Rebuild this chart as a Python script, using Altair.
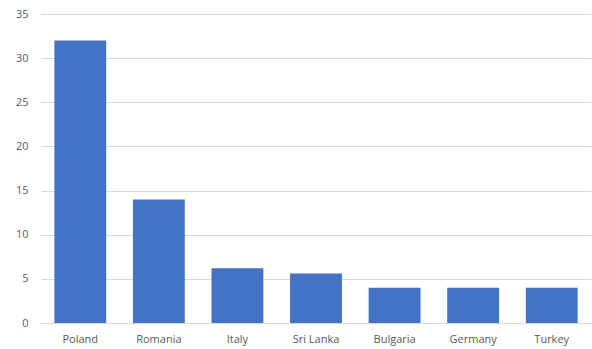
import altair as alt
import pandas as pd

countries = ["Poland", "Romania", "Italy", "Sri Lanka", "Bulgaria", "Germany", "Turkey"]
values = [32, 14, 6.2, 5.6, 4, 4, 4]

df = pd.DataFrame({"country": countries, "value": values})

chart = alt.Chart(df).mark_bar(color="#4472C4").encode(
    x=alt.X("country:N", sort=countries, title=None,
            scale=alt.Scale(paddingInner=0.34, paddingOuter=0.17),
            axis=alt.Axis(labelAngle=0, ticks=False, domainColor="#d9d9d9",
                          labelColor="#595959", labelFontSize=11,
                          labelFont="Open Sans", labelPadding=10)),
    y=alt.Y("value:Q", title=None,
            scale=alt.Scale(domain=[0, 35], nice=False),
            axis=alt.Axis(values=[0, 5, 10, 15, 20, 25, 30, 35], ticks=False,
                          domain=False, gridColor="#d9d9d9", labelColor="#595959",
                          labelFontSize=11, labelFont="Open Sans", labelPadding=13)),
).properties(
    width=550, height=309,
    autosize=alt.AutoSizeParams(type="none"),
    padding={"left": 41, "top": 14, "right": 1, "bottom": 26},
).configure_view(stroke=None)

chart.save("out.html", embed_options={"renderer": "svg", "actions": False})
